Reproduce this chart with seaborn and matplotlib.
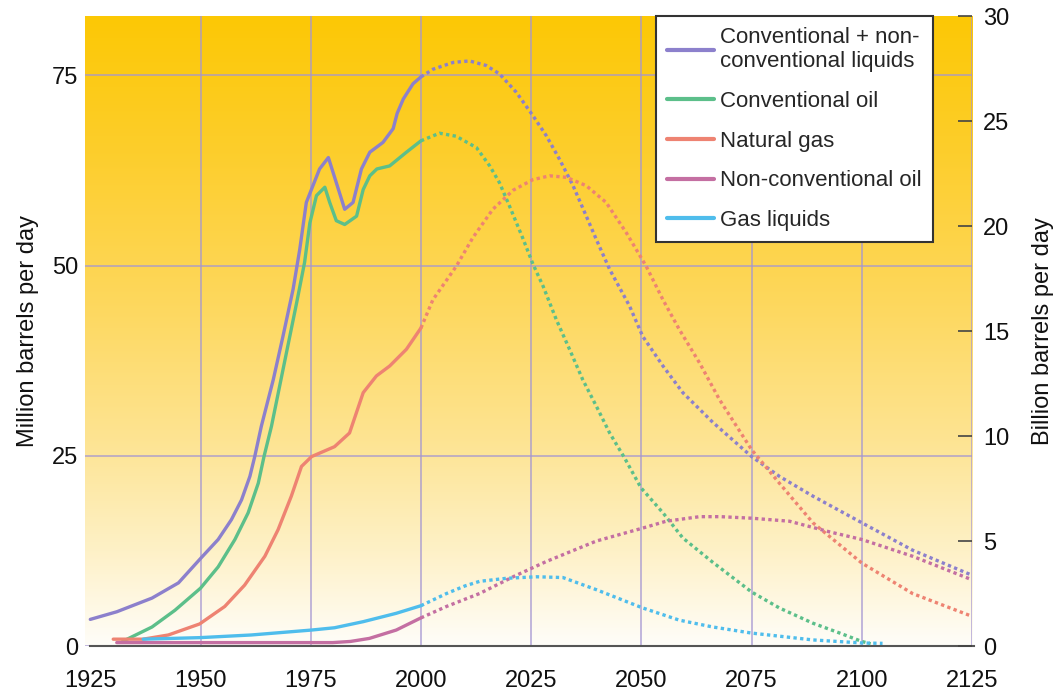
import numpy as np
import pandas as pd
import seaborn as sns
import matplotlib.pyplot as plt
from matplotlib.colors import LinearSegmentedColormap
from matplotlib.lines import Line2D

# valores (millones de barriles por dia); historico hasta 2000, proyeccion despues
total_years = [1925, 1931, 1939, 1945, 1950, 1954, 1957, 1959.3, 1961.2, 1962.3, 1963.8, 1966.5,
               1968.7, 1971, 1972.5, 1974, 1975.5, 1977, 1979, 1980.8, 1982.7, 1984.6, 1986.5,
               1988.4, 1991.4, 1993.7, 1994.6, 1996, 1998.2, 2000,
               2002.7, 2007.3, 2011, 2014.8, 2017.8, 2021.6, 2025.4, 2028.4, 2031.4, 2034.5,
               2037.5, 2039.8, 2042.8, 2047.3, 2050.3, 2054.9, 2059.4, 2066.2, 2075,
               2081.3, 2088.9, 2100, 2111.5, 2125]
total_vals = [3.5, 4.5, 6.3, 8.3, 11.5, 14.0, 16.6, 19.2, 22.3, 24.9, 28.9, 35.0,
              40.7, 46.9, 52.1, 58.3, 60.5, 62.7, 64.2, 60.9, 57.4, 58.3, 62.7,
              64.9, 66.2, 68.0, 70.0, 71.9, 73.9, 74.8,
              75.8, 76.7, 76.9, 76.3, 75.2, 72.8, 69.7, 67.1, 64.0, 60.5,
              56.5, 53.4, 49.5, 44.7, 40.7, 36.8, 33.3, 29.4, 24.9,
              22.3, 19.7, 16.2, 12.6, 9.3]

conv_years = [1932.3, 1939, 1944.2, 1950, 1954, 1957.8, 1960.8, 1963.1, 1964.4, 1966.1, 1968.7,
              1971.8, 1973.6, 1974.8, 1976.3, 1978.2, 1979.3, 1980.8, 1982.7, 1985.4, 1986.9,
              1988.4, 1990, 1992.9, 1996.7, 2000,
              2004.2, 2008, 2012.6, 2015.6, 2017.8, 2020.1, 2023.1, 2025.4, 2027.7, 2030.7,
              2033.7, 2036.7, 2039.8, 2042.8, 2046.2, 2049.9, 2054.9, 2059.4, 2066.2, 2075,
              2081.3, 2088.9, 2095, 2100, 2102]
conv_vals = [0.6, 2.5, 4.7, 7.6, 10.4, 14.0, 17.5, 21.4, 24.9, 28.9, 36.3,
             45.1, 50.4, 55.6, 59.2, 60.3, 58.3, 55.9, 55.4, 56.5, 60.0,
             61.8, 62.7, 63.1, 64.9, 66.4,
             67.4, 67.0, 65.5, 63.1, 60.9, 57.8, 53.6, 50.2, 47.3, 42.9,
             39.0, 35.0, 31.5, 28.0, 24.7, 20.8, 17.5, 14.2, 11.0, 7.1,
             5.0, 3.0, 1.7, 0.6, 0.3]

gas_years = [1930.2, 1937, 1942.7, 1949.8, 1955.5, 1960, 1964.6, 1967.6, 1970.6, 1972.9, 1975.2,
             1980.4, 1983.8, 1986.9, 1989.9, 1992.9, 1996.7, 2000,
             2002.7, 2008, 2011.8, 2016.3, 2020.9, 2025.4, 2029.2, 2033, 2037.5, 2042, 2046.6,
             2051.1, 2054.9, 2058.6, 2063.2, 2067.7, 2075, 2081.3, 2088.9, 2100, 2111.5, 2125]
gas_vals = [0.9, 0.9, 1.45, 2.9, 5.2, 8.0, 11.8, 15.3, 19.7, 23.6, 24.9,
            26.2, 28.0, 33.3, 35.5, 36.8, 39.0, 41.8,
            45.5, 49.9, 53.7, 57.4, 59.9, 61.3, 61.8, 61.6, 60.5, 58.3, 54.3,
            49.9, 45.5, 41.6, 37.2, 32.4, 25.8, 21.4, 16.2, 10.9, 6.9, 3.9]

nonconv_years = [1931, 1980, 1984, 1988.3, 1994.4, 2000,
                 2005.8, 2013.3, 2020.9, 2028.4, 2039.8, 2050.3, 2055.6, 2063.2, 2068, 2075,
                 2083.6, 2092.7, 2100, 2111.5, 2125]
nonconv_vals = [0.45, 0.45, 0.6, 1.0, 2.1, 3.7,
                5.2, 6.9, 9.1, 11.1, 13.8, 15.5, 16.4, 17.0, 17.0, 16.8,
                16.4, 15.0, 14.0, 11.8, 8.7]

ngl_years = [1937, 1949.8, 1961.5, 1975.2, 1980.4, 1986.9, 1994.4, 2000,
             2005.8, 2010, 2013.3, 2019.4, 2026.2, 2032.2, 2039.8, 2050.3, 2058.6, 2066.2, 2075,
             2088.9, 2100, 2104.7]
ngl_vals = [0.9, 1.1, 1.45, 2.1, 2.4, 3.2, 4.3, 5.3,
            6.9, 7.9, 8.5, 8.9, 9.1, 9.0, 7.4, 5.0, 3.4, 2.5, 1.7,
            0.8, 0.4, 0.35]

series_names = ["Conventional + non-\nconventional liquids", "Conventional oil", "Natural gas",
                "Non-conventional oil", "Gas liquids"]
series_colors = ["#8C80CC", "#5CBF8A", "#EE8372", "#C46FA2", "#4FBDEC"]
series_data = [(total_years, total_vals), (conv_years, conv_vals), (gas_years, gas_vals),
               (nonconv_years, nonconv_vals), (ngl_years, ngl_vals)]

## armar dataframe largo: fase historica (<=2000) y proyeccion (>=2000)
rows = []
for name, (yrs, vals) in zip(series_names, series_data):
    for y, v in zip(yrs, vals):
        if y <= 2000:
            rows.append((name, 'hist', y, v))
        if y >= 2000:
            rows.append((name, 'proj', y, v))
df = pd.DataFrame(rows, columns=['serie', 'fase', 'anio', 'valor'])

sns.set_theme(style='white')
plt.rcParams['font.family'] = ['Liberation Sans', 'DejaVu Sans']

fig = plt.figure(figsize=(10.56, 6.91), dpi=100)
ax = fig.add_axes([0.0805, 0.0651, 0.8400, 0.9117])

## fondo degradado dorado -> blanco
grad_cmap = LinearSegmentedColormap.from_list('oro', [
    (0.0, (1.0, 0.993, 0.975)),
    (0.15, (0.996, 0.945, 0.78)),
    (0.32, (0.996, 0.895, 0.58)),
    (0.55, (0.993, 0.845, 0.36)),
    (0.8, (0.992, 0.805, 0.16)),
    (1.0, (0.992, 0.785, 0.02))])
grad = np.linspace(0, 1, 256).reshape(-1, 1)
ax.imshow(grad, extent=[0, 1, 0, 1], transform=ax.transAxes, aspect='auto', cmap=grad_cmap,
          origin='lower', zorder=0, interpolation='bicubic')

palette = dict(zip(series_names, series_colors))
for fase, ls in [('hist', '-'), ('proj', (0, (1, 1)))]:
    sub = df[df['fase'] == fase]
    for name in series_names:
        d = sub[sub['serie'] == name]
        if len(d) == 0:
            continue
        sns.lineplot(data=d, x='anio', y='valor', color=palette[name], ax=ax, legend=False,
                     estimator=None, sort=True, linewidth=2.4, linestyle=ls, zorder=3)

ax.set_xlim(1923.8, 2125)
ax.set_ylim(0, 82.8)
ax.set_xticks(np.arange(1925, 2126, 25))
ax.set_yticks([0, 25, 50, 75])
ax.grid(True, color='#A496D2', alpha=0.8, linewidth=1.2)
ax.set_axisbelow(True)
ax.get_xgridlines()[0].set_visible(False)
ax.tick_params(axis='both', length=0, labelsize=17, colors='#111111')
ax.tick_params(axis='x', pad=17)
ax.tick_params(axis='y', pad=5)
for s in ['top', 'left', 'right']:
    ax.spines[s].set_visible(False)
ax.spines['bottom'].set_color('#555555')
ax.spines['bottom'].set_linewidth(1.5)
ax.spines['bottom'].set_bounds(1925, 2125.5)
ax.set_xlabel('')
ax.set_ylabel('Million barrels per day', fontsize=17, color='#111111', labelpad=9)

## eje derecho en miles de millones
ax2 = ax.twinx()
ax2.set_ylim(0, 30)
ax2.set_yticks([0, 5, 10, 15, 20, 25, 30])
ax2.tick_params(axis='y', direction='in', length=10, width=1.2, color='#444444',
                labelsize=17, labelcolor='#111111', pad=8)
for s in ax2.spines.values():
    s.set_visible(False)
ax2.grid(False)
ax2.set_ylabel('Billion barrels per day', fontsize=17, color='#111111', labelpad=16)

handles = [Line2D([], [], color=c, linewidth=3) for c in series_colors]
leg = ax2.legend(handles, series_names, loc='upper right', bbox_to_anchor=(0.956, 1.0),
                 borderaxespad=0, fontsize=16, frameon=True, fancybox=False, framealpha=1,
                 edgecolor='#333333', handlelength=2.1, handletextpad=0.3, labelspacing=0.84,
                 borderpad=0.5)
leg.get_frame().set_linewidth(1.5)

plt.savefig('out.png', dpi=100)
